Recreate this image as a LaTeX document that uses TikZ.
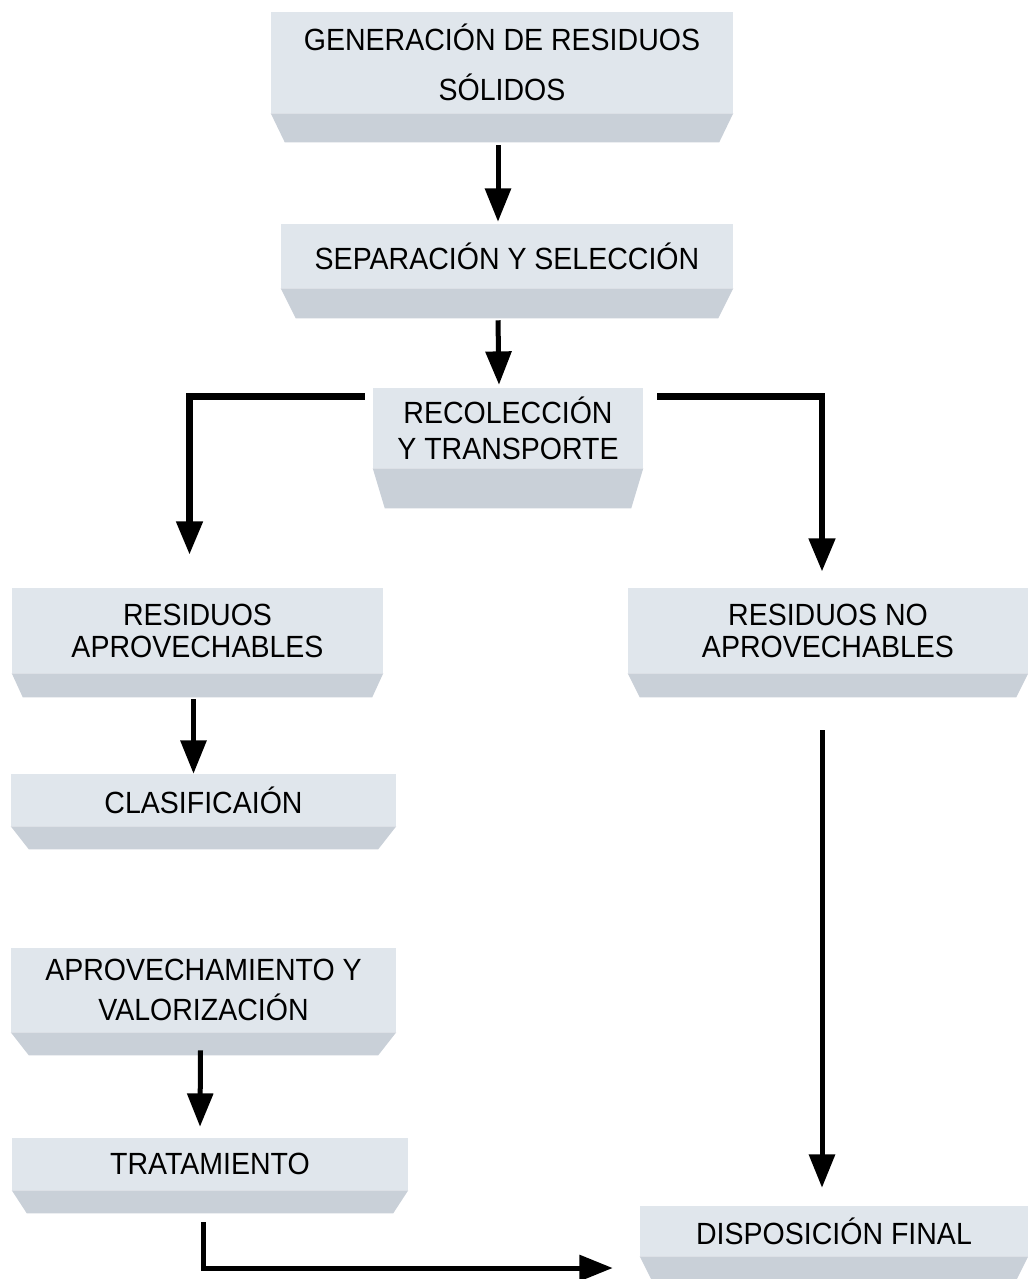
\documentclass[tikz,border=0pt]{standalone}
\usepackage{fontspec}
\setmainfont[FakeStretch=0.93]{Liberation Sans}
\usepackage{xcolor}
\usepackage{tikz}
\usetikzlibrary{arrows.meta}
\definecolor{facecol}{RGB}{224,230,236}
\definecolor{bevcol}{RGB}{201,208,216}
\tikzset{box/.style={fill=facecol, inner sep=0pt, align=center,
   font=\fontsize{23}{27}\selectfont},
 bev/.style={fill=bevcol},
 flow/.style={draw=black, line width=3.75pt, -{Triangle[length=25pt,width=19pt]}},
 split/.style={flow, line width=5pt},
 }
\begin{document}
\begin{tikzpicture}[x=0.75pt, y=-0.75pt]
        \useasboundingbox (0,0) rectangle (1028,1279);
        \node[box, minimum width=346.5pt, minimum height=75.75pt] (gen) at (502,62.5) {GENERACIÓN DE RESIDUOS\\[11pt]SÓLIDOS};
        \node[box, minimum width=339pt, minimum height=48pt] (sep) at (507,256) {SEPARACIÓN Y SELECCIÓN};
        \node[box, minimum width=202.5pt, minimum height=60pt] (rec) at (508,428) {RECOLECCIÓN\\Y TRANSPORTE};
        \node[box, minimum width=278.25pt, minimum height=63.75pt] (apr) at (197.5,630.5) {RESIDUOS\\[-3pt]APROVECHABLES};
        \node[box, minimum width=300pt, minimum height=63.75pt] (noapr) at (828,630.5) {RESIDUOS NO\\[-3pt]APROVECHABLES};
        \node[box, minimum width=288.75pt, minimum height=39pt] (cla) at (203.5,800) {CLASIFICAIÓN};
        \node[box, minimum width=288.75pt, minimum height=63pt] (apv) at (203.5,990) {APROVECHAMIENTO Y\\[3pt]VALORIZACIÓN};
        \node[box, minimum width=297pt, minimum height=39pt] (tra) at (210,1164) {TRATAMIENTO};
        \node[box, minimum width=291pt, minimum height=37.5pt] (dis) at (834,1231) {DISPOSICIÓN FINAL};
        \foreach \n/\d/\i in {gen/29/14, sep/30/15, rec/40/12, apr/24/11, noapr/24/12,
                cla/23/18, apv/23/18, tra/23/15, dis/30/15}
            \fill[bev] (\n.south west) -- (\n.south east) -- ([shift={(-\i,\d)}]\n.south east)
                -- ([shift={(\i,\d)}]\n.south west) -- cycle;
        \draw[flow] ([shift={(-4,32)}]gen.south) -- ([shift={(-4,-2)}]gen.south |- sep.north);
        \draw[flow] ([shift={(-9,32)}]sep.south) -- ([shift={(-9,-3)}]rec.north);
        \draw[split] ([shift={(-8,9)}]rec.north west) -| ([shift={(-8,-33)}]apr.north);
        \draw[split] ([shift={(14,9)}]rec.north east) -| ([shift={(-6,-16)}]noapr.north);
        \draw[flow] ([shift={(-4,26)}]apr.south) -- ([shift={(-10,0)}]cla.north);
        \draw[flow] ([shift={(-3,18)}]apv.south) -- ([shift={(-10,-11)}]tra.north);
        \draw[flow] ([shift={(-6,57)}]noapr.south) -- ([shift={(-12,-18)}]dis.north);
        \draw[flow] ([shift={(-7,32)}]tra.south) |- ([shift={(-27,37)}]dis.west);
    \end{tikzpicture}
\end{document}
